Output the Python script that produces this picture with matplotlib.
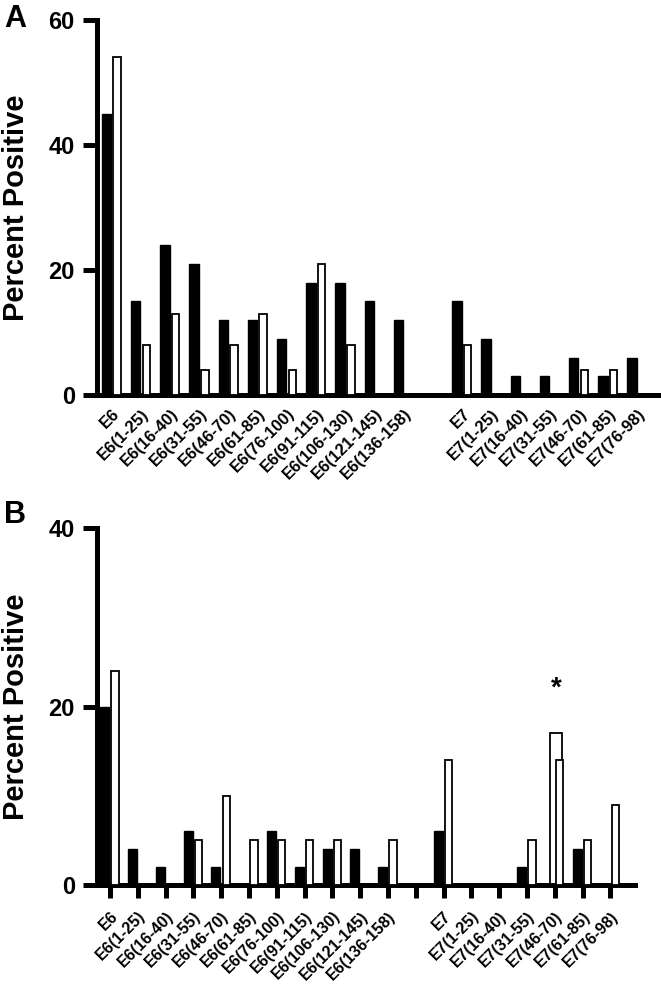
import matplotlib
matplotlib.use('Agg')
import matplotlib.pyplot as plt
import numpy as np

plt.rcParams.update({
    'font.family': ['Liberation Sans', 'DejaVu Sans'],
    'font.weight': 'bold',
    'axes.labelweight': 'bold',
})

# categories (slot 11 is an empty spacer between E6 and E7 peptides)
labels = ['E6', 'E6(1-25)', 'E6(16-40)', 'E6(31-55)', 'E6(46-70)', 'E6(61-85)',
          'E6(76-100)', 'E6(91-115)', 'E6(106-130)', 'E6(121-145)', 'E6(136-158)',
          '',
          'E7', 'E7(1-25)', 'E7(16-40)', 'E7(31-55)', 'E7(46-70)', 'E7(61-85)',
          'E7(76-98)']

# panel A
a_black = [45, 15, 24, 21, 12, 12, 9, 18, 18, 15, 12, 0, 15, 9, 3, 3, 6, 3, 6]
a_white = [54, 8, 13, 4, 8, 13, 4, 21, 8, 0, 0, 0, 8, 0, 0, 0, 4, 4, 0]

# panel B
b_black = [20, 4, 2, 6, 2, 0, 6, 2, 4, 4, 2, 0, 6, 0, 0, 2, 0, 4, 0]
b_white = [24, 0, 0, 5, 10, 5, 5, 5, 5, 0, 5, 0, 14, 0, 0, 5, 14, 5, 9]
b_flag_label = 'E7(46-70)'
b_flag_value = 17

W, H = 661, 989
fig = plt.figure(figsize=(W / 100, H / 100), dpi=100)

x = np.arange(len(labels))
BW, WW = 0.32, 0.26      # bar widths
BO, WO = -0.19, 0.18     # offsets from slot centre


def draw_bars(ax, black, white):
    black = np.array(black, dtype=float)
    white = np.array(white, dtype=float)
    mb = black > 0
    mw = white > 0
    ax.bar(x[mb] + BO, black[mb], width=BW, color='black', edgecolor='black',
           linewidth=1.0, zorder=2)
    ax.bar(x[mw] + WO, white[mw], width=WW, color='white', edgecolor='black',
           linewidth=1.3, zorder=3)


def style(ax, ymax, step, xfs):
    for s in ['top', 'right']:
        ax.spines[s].set_visible(False)
    for s in ['left', 'bottom']:
        ax.spines[s].set_linewidth(3.6)
    ax.set_ylim(0, ymax)
    ax.set_yticks(np.arange(0, ymax + 1, step))
    ax.tick_params(axis='y', length=10, width=3.6, labelsize=17, pad=6)
    ax.set_xticks(x)
    ax.set_xticklabels(labels, rotation=45, ha='right', va='top',
                       rotation_mode='anchor', fontsize=xfs, fontweight='bold')
    for t in ax.get_yticklabels():
        t.set_fontweight('bold')


# ── Panel A ──
axA = fig.add_axes([97 / W, 1 - 395 / H, (661 - 97) / W, (395 - 20) / H])
draw_bars(axA, a_black, a_white)
style(axA, 60, 20, 12)
axA.set_xlim((97 - 112) / 29.2, (661 - 112) / 29.2)
axA.tick_params(axis='x', length=0, pad=8)
axA.set_ylabel('Percent Positive', fontsize=21)
axA.yaxis.set_label_coords(-(97 - 30) / (661 - 97), 0.5)
fig.text(4 / W, 1 - 4 / H, 'A', fontsize=22, fontweight='bold', va='top', ha='left')

# ── Panel B ──
axB = fig.add_axes([97 / W, 1 - 885 / H, (635 - 97) / W, (885 - 528) / H])
fi = labels.index(b_flag_label)
axB.bar(fi + 0.03, b_flag_value, width=0.43, color='white', edgecolor='black',
        linewidth=1.3, zorder=1)
draw_bars(axB, b_black, b_white)
style(axB, 40, 20, 11.5)
axB.set_xlim((97 - 110) / 27.8, (635 - 110) / 27.8)
axB.tick_params(axis='x', length=9, width=3.6, pad=8)
axB.set_ylabel('Percent Positive', fontsize=21)
axB.yaxis.set_label_coords(-(97 - 30) / (635 - 97), 0.5)
axB.text(fi + 0.05, b_flag_value + 5, '*', ha='center', va='center',
         fontsize=20, fontweight='bold')
fig.text(4 / W, 1 - 500 / H, 'B', fontsize=22, fontweight='bold', va='top', ha='left')

plt.savefig('out.png', dpi=100)
plt.close()
